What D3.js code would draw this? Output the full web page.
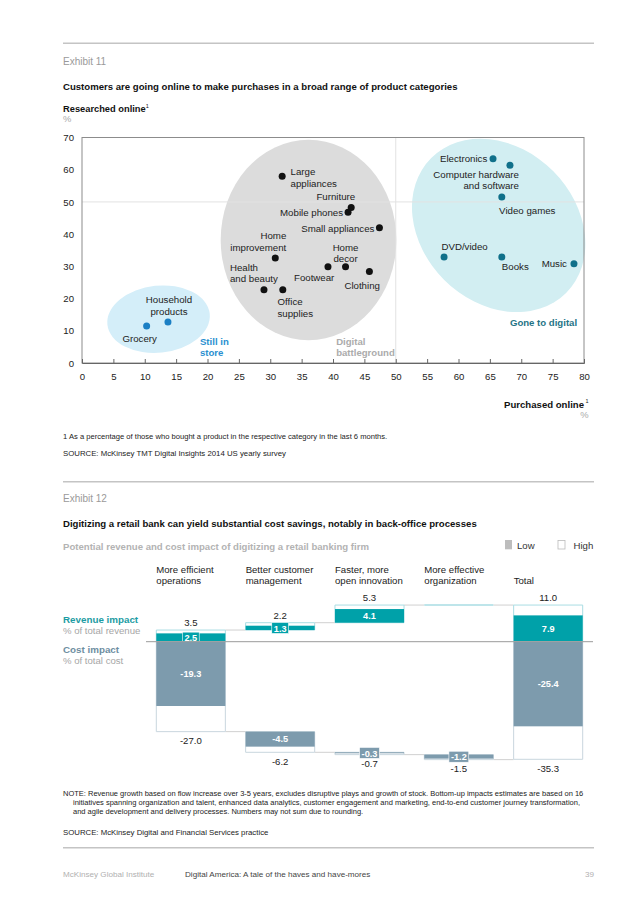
<!DOCTYPE html>
<html>
<head>
<meta charset="utf-8">
<script src="https://cdn.jsdelivr.net/npm/d3@7"></script>
<style>
  body { margin: 0; background: #fff; }
  svg { font-family: "Liberation Sans", Arial, Helvetica, sans-serif; }
</style>
</head>
<body>
<script>
// ---------- Exhibit 11 data ----------
var products = ["Grocery", "Household products", "Large appliances", "Furniture", "Mobile phones",
  "Small appliances", "Home improvement", "Home decor", "Footwear", "Health and beauty",
  "Office supplies", "Clothing", "Electronics", "Computer hardware and software", "Video games",
  "DVD/video", "Books", "Music"];
var purchasedOnline  = [10.3, 13.7, 31.9, 42.9, 42.4, 47.4, 30.8, 42.0, 39.2, 29.0, 32.0, 45.8, 65.5, 68.2, 66.9, 57.7, 66.9, 78.4];
var researchedOnline = [11.5, 12.7, 58.0, 48.3, 46.8, 42.0, 32.6, 29.9, 29.9, 22.7, 22.7, 28.4, 63.4, 61.4, 51.5, 32.9, 32.9, 30.8];
var productGroup = ["store", "store", "battle", "battle", "battle", "battle", "battle", "battle", "battle",
  "battle", "battle", "battle", "digital", "digital", "digital", "digital", "digital", "digital"];
var xTickValues = [0, 5, 10, 15, 20, 25, 30, 35, 40, 45, 50, 55, 60, 65, 70, 75, 80];
var yTickValues = [0, 10, 20, 30, 40, 50, 60, 70];

// cluster zones, in data units
var clusterGroup = ["store", "battle", "digital"];
var clusterCx = [12.2, 36.1, 66.4];
var clusterCy = [13.6, 38.2, 42.7];
var clusterRx = [8.2, 14.0, 15.2];
var clusterRy = [10.4, 31.1, 23.9];
var clusterTilt = [-6, 0, 45];

// ---------- Exhibit 12 data ----------
var levers = ["More efficient operations", "Better customer management", "Faster, more open innovation",
  "More effective organization", "Total"];
var leverHeader = [["More efficient", "operations"], ["Better customer", "management"],
  ["Faster, more", "open innovation"], ["More effective", "organization"], ["", "Total"]];
var revenueLow  = [2.5, 1.3, 4.1, 0, 7.9];
var revenueHigh = [3.5, 2.2, 5.3, 0, 11.0];
var costLow  = [-19.3, -4.5, -0.3, -1.2, -25.4];
var costHigh = [-27.0, -6.2, -0.7, -1.5, -35.3];

// ---------- colours ----------
var groupColor = {store: "#1b7fc4", battle: "#111", digital: "#10708a"};
var zoneColor = {store: "#d4eef9", battle: "#dcdcdc", digital: "#d2eef2"};
var teal = "#00a1a9", slate = "#7d9bad";

var svg = d3.select("body").append("svg")
    .attr("width", 636)
    .attr("height", 900);

// helper for simple text
function txt(x, y, s, o) {
  o = o || {};
  var t = svg.append("text").attr("x", x).attr("y", y)
      .style("font-size", (o.size || 9.6) + "px")
      .style("fill", o.fill || "#222")
      .style("font-weight", o.bold ? "bold" : "normal")
      .attr("text-anchor", o.anchor || "start")
      .text(s);
  return t;
}
function rule(y) {
  svg.append("line").attr("x1", 63).attr("x2", 594).attr("y1", y).attr("y2", y)
    .style("stroke", "#c4c4c4").style("stroke-width", 1.5);
}

// =========================================================
// Exhibit 11
// =========================================================
rule(43.3);
txt(63, 64.5, "Exhibit 11", {size: 10, fill: "#9a9a9a"});
txt(63, 90, "Customers are going online to make purchases in a broad range of product categories", {size: 9.6, bold: true, fill: "#111"});
var ro = txt(63, 111.5, "Researched online", {size: 9.3, bold: true, fill: "#111"});
ro.append("tspan").attr("dy", -4).style("font-size", "5.5px").style("font-weight", "normal").text("1");
txt(63, 121.5, "%", {size: 9.4, fill: "#aaa"});

var xScale = d3.scaleLinear().domain([0, 80]).range([82, 584]);
var yScale = d3.scaleLinear().domain([0, 70]).range([363, 137.5]);

var plot = svg.append("g");

// zones
plot.selectAll("ellipse.zone")
  .data(clusterGroup)
  .join("ellipse")
    .attr("class", "zone")
    .attr("cx", 0).attr("cy", 0)
    .attr("rx", function(d, i) { return xScale(clusterRx[i]) - xScale(0); })
    .attr("ry", function(d, i) { return yScale(0) - yScale(clusterRy[i]); })
    .attr("transform", function(d, i) {
      return "translate(" + xScale(clusterCx[i]) + "," + yScale(clusterCy[i]) + ") rotate(" + clusterTilt[i] + ")";
    })
    .style("fill", function(d) { return zoneColor[d]; });

// reference lines at 50%
plot.append("line")
  .attr("x1", xScale(50)).attr("x2", xScale(50)).attr("y1", yScale(70)).attr("y2", yScale(0))
  .style("stroke", "#e2e2e2").style("stroke-width", 1);
plot.append("line")
  .attr("x1", xScale(0)).attr("x2", xScale(80)).attr("y1", yScale(50)).attr("y2", yScale(50))
  .style("stroke", "#e2e2e2").style("stroke-width", 1);

// frame
plot.append("rect")
  .attr("x", xScale(0)).attr("y", yScale(70))
  .attr("width", xScale(80) - xScale(0)).attr("height", yScale(0) - yScale(70))
  .style("fill", "none").style("stroke", "#8c8c8c").style("stroke-width", 1);

// axes
var xAxis = plot.append("g")
    .attr("transform", "translate(0," + yScale(0) + ")")
    .call(d3.axisBottom(xScale).tickValues(xTickValues).tickSize(-4).tickPadding(10));
xAxis.select(".domain").style("stroke", "#666");
xAxis.selectAll("line").style("stroke", "#666");
xAxis.selectAll("text").style("font-size", "9.6px").style("fill", "#222")
  .style("font-family", "Liberation Sans, Arial, sans-serif");

var yAxis = plot.append("g")
    .attr("transform", "translate(" + xScale(0) + ",0)")
    .call(d3.axisLeft(yScale).tickValues(yTickValues).tickSize(0).tickPadding(8));
yAxis.select(".domain").remove();
yAxis.selectAll("text").style("font-size", "9.6px").style("fill", "#222")
  .style("font-family", "Liberation Sans, Arial, sans-serif");

// dots
plot.selectAll("circle.dot")
  .data(products)
  .join("circle")
    .attr("class", "dot")
    .attr("cx", function(d, i) { return xScale(purchasedOnline[i]); })
    .attr("cy", function(d, i) { return yScale(researchedOnline[i]); })
    .attr("r", 3.5)
    .style("fill", function(d, i) { return groupColor[productGroup[i]]; });

// label placement (pixels from the dot)
var labelPos = {
  "Grocery": {dx: -7, dy: 16, a: "middle", lines: ["Grocery"]},
  "Household products": {dx: 1, dy: -18.7, a: "middle", lines: ["Household", "products"]},
  "Large appliances": {dx: 8.4, dy: -0.7, a: "start", lines: ["Large", "appliances"]},
  "Furniture": {dx: 4, dy: -7.3, a: "end", lines: ["Furniture"]},
  "Mobile phones": {dx: -5, dy: 3.3, a: "end", lines: ["Mobile phones"]},
  "Small appliances": {dx: -5, dy: 4, a: "end", lines: ["Small appliances"]},
  "Home improvement": {dx: 11, dy: -18.7, a: "end", lines: ["Home", "improvement"]},
  "Home decor": {dx: 0, dy: -15.7, a: "middle", lines: ["Home", "decor"]},
  "Footwear": {dx: -34, dy: 14.3, a: "start", lines: ["Footwear"]},
  "Health and beauty": {dx: -34, dy: -19, a: "start", lines: ["Health", "and beauty"]},
  "Office supplies": {dx: -5.3, dy: 15.6, a: "start", lines: ["Office", "supplies"]},
  "Clothing": {dx: -25, dy: 17.3, a: "start", lines: ["Clothing"]},
  "Electronics": {dx: -5.7, dy: 3.3, a: "end", lines: ["Electronics"]},
  "Computer hardware and software": {dx: 9, dy: 12.7, a: "end", lines: ["Computer hardware", "and software"]},
  "Video games": {dx: -2.7, dy: 16.7, a: "start", lines: ["Video games"]},
  "DVD/video": {dx: -2.6, dy: -7, a: "start", lines: ["DVD/video"]},
  "Books": {dx: 0, dy: 13.3, a: "start", lines: ["Books"]},
  "Music": {dx: -7, dy: 3.3, a: "end", lines: ["Music"]}
};

products.forEach(function(name, i) {
  var p = labelPos[name];
  var t = plot.append("text")
      .attr("x", xScale(purchasedOnline[i]) + p.dx)
      .attr("y", yScale(researchedOnline[i]) + p.dy)
      .attr("text-anchor", p.a)
      .style("font-size", "9.7px")
      .style("fill", "#222");
  p.lines.forEach(function(l, k) {
    t.append("tspan").attr("x", xScale(purchasedOnline[i]) + p.dx).attr("dy", k ? 11.4 : 0).text(l);
  });
});

// zone titles
function zoneTitle(x, y, lines, color, anchor) {
  var t = plot.append("text").attr("x", x).attr("y", y).attr("text-anchor", anchor)
      .style("font-size", "9.6px").style("font-weight", "bold").style("fill", color);
  lines.forEach(function(l, k) {
    t.append("tspan").attr("x", x).attr("dy", k ? 11.4 : 0).text(l);
  });
}
zoneTitle(xScale(18.8), yScale(5.7), ["Still in", "store"], "#2a8fd0", "start");
zoneTitle(xScale(40.5), yScale(5.7), ["Digital", "battleground"], "#ababab", "start");
zoneTitle(xScale(78.9), yScale(11.6), ["Gone to digital"], "#1f7486", "end");

txt(584, 407.5, "Purchased online", {size: 9.6, bold: true, fill: "#111", anchor: "end"});
svg.append("text").attr("x", 588.5).attr("y", 402.5).style("font-size", "5.5px").style("fill", "#222")
  .attr("text-anchor", "end").text("1");
txt(588.5, 417.5, "%", {size: 9.4, fill: "#aaa", anchor: "end"});

txt(63, 438.5, "1   As a percentage of those who bought a product in the respective category in the last 6 months.", {size: 7.6, fill: "#222"});
txt(63, 456, "SOURCE:  McKinsey TMT Digital Insights 2014 US yearly survey", {size: 7.8, fill: "#222"});

// =========================================================
// Exhibit 12
// =========================================================
rule(481.7);
txt(63, 502, "Exhibit 12", {size: 10, fill: "#9a9a9a"});
txt(63, 526.5, "Digitizing a retail bank can yield substantial cost savings, notably in back-office processes", {size: 9.6, bold: true, fill: "#111"});
txt(63, 550, "Potential revenue and cost impact of digitizing a retail banking firm", {size: 9.6, bold: true, fill: "#b3b3b3"});

// legend
svg.append("rect").attr("x", 505).attr("y", 540).attr("width", 7).attr("height", 9.3).style("fill", "#bdbdbd");
txt(517, 549, "Low", {size: 9.6, fill: "#333"});
svg.append("rect").attr("x", 558).attr("y", 540.5).attr("width", 7).attr("height", 8.5)
  .style("fill", "#fff").style("stroke", "#bbb").style("stroke-width", 0.8);
txt(573.5, 549, "High", {size: 9.6, fill: "#333"});

var xBand = d3.scaleBand().domain(levers).range([156.3, 582.7]).paddingInner(0.227).paddingOuter(0);
var yW = d3.scaleLinear().domain([0, -35.3]).range([641.7, 759.3]);

// column headers
levers.forEach(function(lev, i) {
  leverHeader[i].forEach(function(l, k) {
    if (l) txt(xBand(lev), 572.5 + k * 11.8, l, {size: 9.6, fill: "#222"});
  });
});

// row labels
txt(63, 622.8, "Revenue impact", {size: 9.8, bold: true, fill: "#1c9ca3"});
txt(63, 634.2, "% of total revenue", {size: 9.6, fill: "#a6a6a6"});
txt(63, 652.8, "Cost impact", {size: 9.8, bold: true, fill: "#6e8ea1"});
txt(63, 664.2, "% of total cost", {size: 9.6, fill: "#a6a6a6"});

// waterfall layout: each lever starts at the running "high" total, Total starts at 0
function buildSeries(low, high) {
  var run = 0;
  return levers.map(function(lev, i) {
    var isTotal = i === levers.length - 1;
    var start = isTotal ? 0 : run;
    if (!isTotal) run += high[i];
    return {lever: lev, i: i, start: start, low: low[i], high: high[i], isTotal: isTotal};
  });
}
var revSeries = buildSeries(revenueLow, revenueHigh);
var costSeries = buildSeries(costLow, costHigh);

var wf = svg.append("g");

function drawSeries(series, dark, light, isCost) {
  // connectors between columns at the running high level
  series.slice(0, -1).forEach(function(d, k) {
    var level = d.start + d.high;
    wf.append("line")
      .attr("x1", xBand(d.lever) + xBand.bandwidth()).attr("x2", xBand(series[k + 1].lever))
      .attr("y1", yW(level)).attr("y2", yW(level))
      .style("stroke", "#d0d0d0").style("stroke-width", 1);
  });

  // high outline boxes
  wf.selectAll(null)
    .data(series)
    .join("path")
      .attr("d", function(d) {
        var x0 = xBand(d.lever), w = xBand.bandwidth();
        var y0 = yW(d.start), y1 = yW(d.start + d.high);
        return "M" + x0 + "," + y0 + "H" + (x0 + w) + "V" + y1 + "H" + x0 + "Z";
      })
      .style("fill", "#fff")
      .style("stroke", light)
      .style("stroke-width", function(d) { return d.high === 0 ? 1.6 : 1; });

  // low bars
  wf.selectAll(null)
    .data(series.filter(function(d) { return d.low !== 0; }))
    .join("rect")
      .attr("x", function(d) { return xBand(d.lever); })
      .attr("width", xBand.bandwidth())
      .attr("y", function(d) { return Math.min(yW(d.start), yW(d.start + d.low)); })
      .attr("height", function(d) { return Math.max(1, Math.abs(yW(d.start + d.low) - yW(d.start))); })
      .style("fill", dark);

  // labels
  series.forEach(function(d) {
    if (d.high === 0) return;
    var cx = xBand(d.lever) + xBand.bandwidth() / 2;
    // high value outside the box
    var yEnd = yW(d.start + d.high);
    txt(cx, isCost ? yEnd + 12.5 : yEnd - 3.8, d.high.toFixed(1), {size: 9.6, fill: "#222", anchor: "middle"});
    // low value inside bar or in a tag
    var h = Math.abs(yW(d.start + d.low) - yW(d.start));
    var cy = (yW(d.start) + yW(d.start + d.low)) / 2;
    var lab = d.low.toFixed(1);
    if (h >= 12) {
      txt(cx, cy + 3.3, lab, {size: 9.2, bold: true, fill: "#fff", anchor: "middle"});
    } else {
      var g = wf.append("g");
      var t = g.append("text").attr("x", cx).attr("y", cy + 3.7).attr("text-anchor", "middle")
          .style("font-size", "9.2px").style("font-weight", "bold").style("fill", "#fff").text(lab);
      var tw = t.node().getComputedTextLength();
      g.insert("rect", "text")
        .attr("x", cx - tw / 2 - 2).attr("y", cy - 5.4)
        .attr("width", tw + 4).attr("height", 11)
        .style("fill", dark).style("stroke", "#fff").style("stroke-width", 0.6);
    }
  });
}
drawSeries(revSeries, teal, "#a9dde3", false);
drawSeries(costSeries, slate, "#c9d6de", true);

// zero line
wf.append("line").attr("x1", 146).attr("x2", 593).attr("y1", yW(0)).attr("y2", yW(0))
  .style("stroke", "#9a9a9a").style("stroke-width", 1);

// notes
var note = svg.append("text").attr("x", 63).attr("y", 796).style("font-size", "7.5px").style("fill", "#222");
note.append("tspan").attr("x", 63).attr("dy", 0)
  .text("NOTE: Revenue growth based on flow increase over 3-5 years, excludes disruptive plays and growth of stock. Bottom-up impacts estimates are based on 16");
note.append("tspan").attr("x", 73).attr("dy", 9)
  .text("initiatives spanning organization and talent, enhanced data analytics, customer engagement and marketing, end-to-end customer journey transformation,");
note.append("tspan").attr("x", 73).attr("dy", 9)
  .text("and agile development and delivery processes. Numbers may not sum due to rounding.");
txt(63, 834.5, "SOURCE:  McKinsey Digital and Financial Services practice", {size: 7.8, fill: "#222"});

rule(847.7);
txt(63, 877, "McKinsey Global Institute", {size: 8.1, fill: "#b0b0b0"});
txt(185, 877, "Digital America: A tale of the haves and have-mores", {size: 8.1, fill: "#444"});
txt(594, 877, "39", {size: 8.1, fill: "#b0b0b0", anchor: "end"});
</script>
</body>
</html>
